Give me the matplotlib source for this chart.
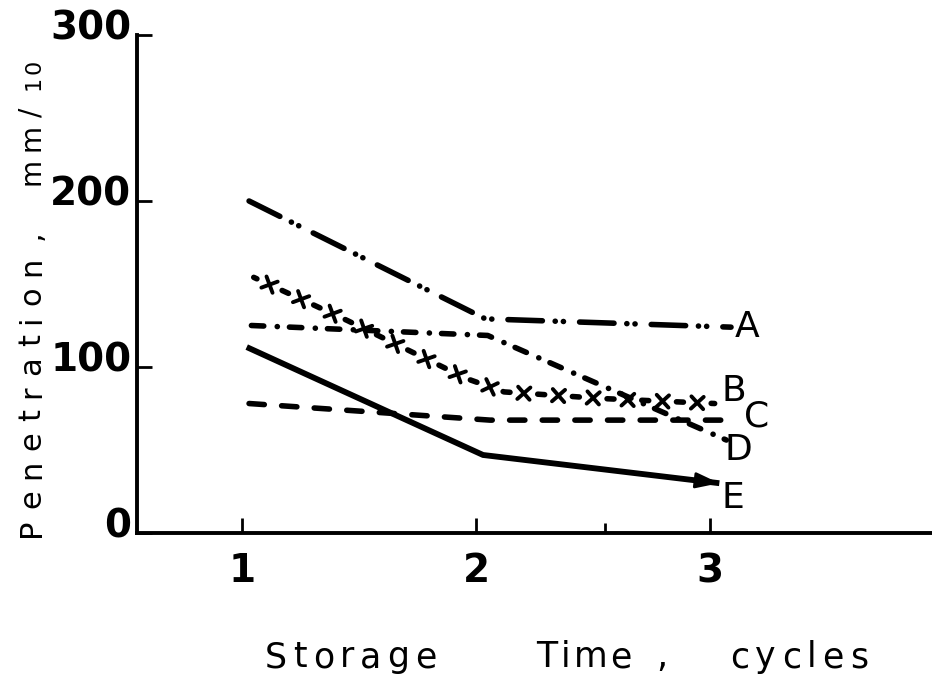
import matplotlib
matplotlib.use("Agg")
import matplotlib.pyplot as plt
import matplotlib.patheffects as pe
import numpy as np
from matplotlib.transforms import ScaledTranslation

plt.rcParams['font.family'] = 'DejaVu Sans'
plt.rcParams['lines.scale_dashes'] = False

# penetration (mm/10) of the five samples against storage time (cycles)
a_cycles = [1.03, 2.04, 3.09]
a_pen = [200, 129, 124]
b_cycles = [1.05, 1.45, 1.96, 2.12, 2.54, 3.02]
b_pen = [154, 128, 93, 85, 81, 78]
c_cycles = [1.03, 2.06, 3.06]
c_pen = [78, 68, 68]
d_cycles = [1.04, 2.05, 3.07]
d_pen = [125, 119, 56]
e_cycles = [1.02, 2.03, 3.04]
e_pen = [112, 47, 30]

curve_names = ['A', 'B', 'C', 'D', 'E']
x_ticks = [1, 2, 3]
y_ticks = [0, 100, 200, 300]

W, H, DPI = 932, 680, 100
fig = plt.figure(figsize=(W / DPI, H / DPI), dpi=DPI)
ax = fig.add_axes([137 / W, 147 / H, 795 / W, 498 / H])
ax.set_xlim(0.551, 3.949)
ax.set_ylim(0, 300)

LW = 4.0
# A: long dash with two dots
ax.plot(a_cycles, a_pen, color='k', lw=LW, dash_capstyle='round',
        linestyle=(0, (24.8, 9.2, 0.1, 5.8, 0.1, 11.6)))

# B: short dashes with a cross between each pair
# spacing chosen so that the crosses fall midway between the dashes
pts = ax.transData.transform(np.column_stack([b_cycles, b_pen]))
b_len = np.hypot(*np.diff(pts, axis=0).T).sum()
n_cross = max(int(round(b_len / 34)), 2)
step_pt = b_len / n_cross * (1 - 1e-6) * 72 / DPI
dash_pt = 5.0
ax.plot(b_cycles, b_pen, color='k', lw=LW, dash_capstyle='round',
        linestyle=(dash_pt / 2, (dash_pt, step_pt - dash_pt)))
ax.plot(b_cycles, b_pen, color='k', lw=2.6,
        path_effects=[pe.TickedStroke(spacing=step_pt, angle=ang, length=0.25,
                                      linewidth=2.8, capstyle='round')
                      for ang in (45, 135, -45, -135)])
# C: dashed
ax.plot(c_cycles, c_pen, color='k', lw=LW, dash_capstyle='round',
        linestyle=(0, (11, 12.5)))
# D: dash-dot
ax.plot(d_cycles, d_pen, color='k', lw=LW, dash_capstyle='round',
        linestyle=(0, (8.9, 9.7, 0.1, 8.7)))
# E: solid with arrow head
ax.plot(e_cycles, e_pen, color='k', lw=LW + 0.2, solid_capstyle='butt',
        solid_joinstyle='miter')
ax.annotate('', xy=(e_cycles[-1], e_pen[-1]), xytext=(e_cycles[-2], e_pen[-2]),
            arrowprops=dict(arrowstyle='-|>,head_length=0.9,head_width=0.3',
                            color='k', lw=2, shrinkA=0, shrinkB=0,
                            mutation_scale=16))

# curve letters
name_x = [3.16, 3.10, 3.20, 3.12, 3.10]
name_y = [124, 85.5, 70, 50, 21]
for nm, nx, ny in zip(curve_names, name_x, name_y):
    ax.text(nx, ny, nm, fontsize=26, ha='center', va='center')

# axes
for side in ['top', 'right']:
    ax.spines[side].set_visible(False)
for side in ['left', 'bottom']:
    ax.spines[side].set_linewidth(2.8)
ax.set_xticks(x_ticks)
ax.set_xticks([2.55], minor=True)
ax.set_yticks(y_ticks)
ax.set_xticklabels([str(v) for v in x_ticks], fontsize=28, fontweight='bold')
ax.set_yticklabels([str(v) for v in y_ticks], fontsize=28, fontweight='bold')
ax.tick_params(axis='x', which='major', direction='in', length=11, width=2, pad=14)
ax.tick_params(axis='x', which='minor', direction='in', length=7, width=2)
ax.tick_params(axis='y', direction='in', length=11, width=2, pad=4)
lift = ScaledTranslation(0, 11 / DPI, fig.dpi_scale_trans)
for lbl in ax.get_yticklabels():
    lbl.set_transform(lbl.get_transform() + lift)

renderer = fig.canvas.get_renderer()


def spaced_word(word, start, end, base, size, vertical=False):
    # lay a word out glyph by glyph so that it fills start..end (pixels)
    widths = []
    for ch in word:
        t = fig.text(0, 0, ch, fontsize=size)
        widths.append(t.get_window_extent(renderer).width)
        t.remove()
    gap = 0 if len(word) < 2 else (end - start - sum(widths)) / (len(word) - 1)
    pos = start
    for ch, w in zip(word, widths):
        if vertical:
            fig.text(base / W, pos / H, ch, fontsize=size, rotation=90,
                     rotation_mode='anchor', ha='left', va='baseline')
        else:
            fig.text(pos / W, base / H, ch, fontsize=size, ha='left', va='baseline')
        pos += w + gap


# x axis title
spaced_word('Storage', 265, 437, 13, 25)
spaced_word('Time', 536, 632, 13, 25)
spaced_word(',', 656, 662, 13, 25)
spaced_word('cycles', 730, 868, 13, 25)
# y axis title
spaced_word('Penetration', 143, 423, 40, 22, vertical=True)
spaced_word(',', 440, 446, 40, 22, vertical=True)
spaced_word('mm/', 495, 572, 40, 20, vertical=True)
spaced_word('10', 590, 620, 40, 16, vertical=True)

fig.savefig('out.png', dpi=DPI)
